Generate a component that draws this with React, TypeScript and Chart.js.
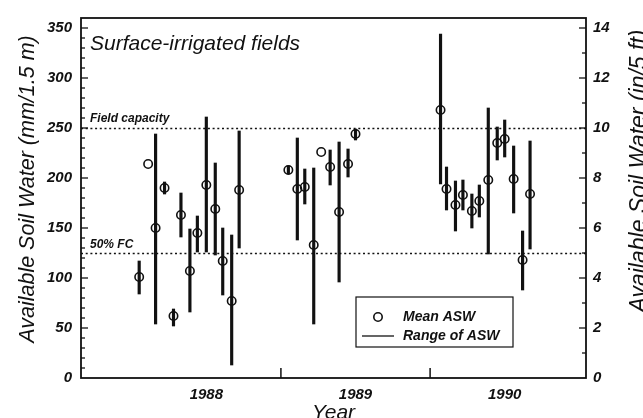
import React, { useEffect, useRef } from 'react';
import { Chart, registerables } from 'chart.js';

Chart.register(...registerables);

// Sampling dates (decimal years)
const sampleYears = [
  1988.05, 1988.11, 1988.16, 1988.22, 1988.28, 1988.33, 1988.39, 1988.44, 1988.50, 1988.56, 1988.61, 1988.67, 1988.72,
  1989.05, 1989.11, 1989.16, 1989.22, 1989.27, 1989.33, 1989.39, 1989.45, 1989.50,
  1990.07, 1990.11, 1990.17, 1990.22, 1990.28, 1990.33, 1990.39, 1990.45, 1990.50, 1990.56, 1990.62, 1990.67,
];
// Mean available soil water (mm / 1.5 m)
const meanASW = [
  101, 214, 150, 190, 62, 163, 107, 145, 193, 169, 117, 77, 188,
  208, 189, 191, 133, 226, 211, 166, 214, 244,
  268, 189, 173, 183, 167, 177, 198, 235, 239, 199, 118, 184,
];
// Range of ASW (min / max)
const rangeMin: (number | null)[] = [
  84, null, 54, 184, 52, 141, 66, 126, 126, 123, 83, 13, 130,
  204, 138, 174, 54, null, 193, 96, 201, 238,
  194, 168, 147, 168, 150, 161, 124, 218, 221, 165, 88, 129,
];
const rangeMax: (number | null)[] = [
  117, null, 244, 196, 69, 185, 149, 162, 261, 215, 150, 143, 247,
  212, 240, 209, 210, null, 228, 236, 229, 249,
  344, 211, 197, 198, 184, 193, 270, 251, 258, 232, 147, 237,
];

const yearLabelPositions = [1988.5, 1989.5, 1990.5];
const yearBoundaryTicks = [1989, 1990];
const xMin = 1987.66;
const xMax = 1991.045;
const yMaxMM = 360;
const mmPerInch = 25; // mm/1.5 m per in/5 ft
const fieldCapacity = 250;
const halfFieldCapacity = 125;

const INK = '#111';
const FAMILY = '"Liberation Sans", Arial, Helvetica, sans-serif';

export default function App() {
  const ref = useRef<HTMLCanvasElement | null>(null);

  useEffect(() => {
    const canvas = ref.current;
    if (!canvas) return;

    const rangeData = sampleYears
      .map((x, i) => (rangeMin[i] == null || rangeMax[i] == null ? null : { x, y: [rangeMin[i], rangeMax[i]] }))
      .filter((d) => d !== null);
    const meanData = sampleYears.map((x, i) => ({ x, y: meanASW[i] }));

    const decor = {
      id: 'decor',
      beforeDatasetsDraw(chart: any) {
        const { ctx, chartArea: ca, scales } = chart;
        const y = scales.y;
        ctx.save();
        ctx.strokeStyle = INK;
        ctx.lineWidth = 1.5;
        ctx.setLineDash([2, 2.7]);
        [fieldCapacity, halfFieldCapacity].forEach((v) => {
          const py = Math.round(y.getPixelForValue(v)) + 0.5;
          ctx.beginPath();
          ctx.moveTo(ca.left, py);
          ctx.lineTo(ca.right, py);
          ctx.stroke();
        });
        ctx.restore();
      },
      afterDraw(chart: any) {
        const { ctx, chartArea: ca, scales } = chart;
        const x = scales.x;
        const y = scales.y;
        const y2 = scales.y2;
        ctx.save();
        ctx.strokeStyle = INK;
        ctx.fillStyle = INK;

        // frame
        ctx.lineWidth = 1.8;
        ctx.strokeRect(ca.left, ca.top, ca.right - ca.left, ca.bottom - ca.top);

        // inward ticks
        ctx.lineWidth = 1.3;
        y.ticks.forEach((t: any) => {
          if (t.value <= 0 || t.value >= yMaxMM) return;
          const py = y.getPixelForValue(t.value);
          const len = t.value % 50 === 0 ? 7 : 4;
          ctx.beginPath();
          ctx.moveTo(ca.left, py);
          ctx.lineTo(ca.left + len, py);
          ctx.stroke();
        });
        y2.ticks.forEach((t: any) => {
          if (t.value <= 0) return;
          const py = y2.getPixelForValue(t.value);
          const len = t.value % 2 === 0 ? 7 : 4;
          ctx.beginPath();
          ctx.moveTo(ca.right, py);
          ctx.lineTo(ca.right - len, py);
          ctx.stroke();
        });
        ctx.lineWidth = 1.5;
        yearBoundaryTicks.forEach((v) => {
          const px = x.getPixelForValue(v);
          ctx.beginPath();
          ctx.moveTo(px, ca.bottom);
          ctx.lineTo(px, ca.bottom - 10);
          ctx.stroke();
        });

        // texts inside plot
        ctx.textAlign = 'left';
        ctx.textBaseline = 'alphabetic';
        ctx.font = `italic 21px ${FAMILY}`;
        ctx.fillText('Surface-irrigated fields', ca.left + 9, ca.top + 32);
        ctx.font = `italic bold 12px ${FAMILY}`;
        ctx.fillText('Field capacity', ca.left + 9, y.getPixelForValue(fieldCapacity) - 6);
        ctx.fillText('50% FC', ca.left + 9, y.getPixelForValue(halfFieldCapacity) - 5);

        // axis titles
        ctx.textAlign = 'center';
        ctx.font = `italic 21.5px ${FAMILY}`;
        ctx.save();
        ctx.translate(34, 189);
        ctx.rotate(-Math.PI / 2);
        ctx.fillText('Available Soil Water (mm/1.5 m)', 0, 0);
        ctx.restore();
        ctx.font = `italic 23px ${FAMILY}`;
        ctx.save();
        ctx.translate(646, 171);
        ctx.rotate(-Math.PI / 2);
        ctx.fillText('Available Soil Water (in/5 ft)', 0, 0);
        ctx.restore();
        ctx.font = `italic 21px ${FAMILY}`;
        ctx.fillText('Year', (ca.left + ca.right) / 2, 419);

        // legend
        const lx = 356, ly = 297, lw = 157, lh = 50;
        ctx.lineWidth = 1.2;
        ctx.strokeRect(lx, ly, lw, lh);
        ctx.lineWidth = 1.6;
        ctx.beginPath();
        ctx.arc(lx + 22, ly + 20, 4.2, 0, Math.PI * 2);
        ctx.stroke();
        ctx.lineWidth = 1.3;
        ctx.beginPath();
        ctx.moveTo(lx + 6, ly + 39);
        ctx.lineTo(lx + 38, ly + 39);
        ctx.stroke();
        ctx.font = `italic bold 14px ${FAMILY}`;
        ctx.textAlign = 'left';
        ctx.textBaseline = 'middle';
        ctx.fillText('Mean ASW', lx + 47, ly + 20);
        ctx.fillText('Range of ASW', lx + 47, ly + 39);
        ctx.restore();
      },
    };

    const tickFont = { family: FAMILY, size: 15, style: 'italic' as const, weight: 'bold' as const };

    const chart = new Chart(canvas, {
      type: 'bar',
      data: {
        datasets: [
          {
            type: 'scatter',
            label: 'Mean ASW',
            data: meanData,
            pointStyle: 'circle',
            pointRadius: 4.2,
            pointHoverRadius: 4.2,
            pointBorderWidth: 1.6,
            borderColor: INK,
            backgroundColor: 'rgba(0,0,0,0)',
            showLine: false,
            order: 0,
          } as any,
          {
            type: 'bar',
            label: 'Range of ASW',
            data: rangeData as any,
            backgroundColor: INK,
            borderWidth: 0,
            barThickness: 2.5,
            grouped: false,
            order: 1,
          } as any,
        ],
      },
      options: {
        animation: false,
        responsive: false,
        maintainAspectRatio: false,
        layout: { padding: { top: 10, left: 0, right: 0, bottom: 0 } },
        plugins: { legend: { display: false }, tooltip: { enabled: false }, title: { display: false } },
        scales: {
          x: {
            type: 'linear',
            min: xMin,
            max: xMax,
            offset: false,
            grid: { display: false, drawTicks: false },
            border: { display: false },
            afterBuildTicks: (s: any) => {
              s.ticks = yearLabelPositions.map((v) => ({ value: v }));
            },
            afterFit: (s: any) => {
              s.height = 40;
            },
            ticks: {
              autoSkip: false,
              maxRotation: 0,
              padding: 8,
              color: INK,
              font: tickFont,
              callback: (v: any) => String(Math.floor(Number(v))),
            },
          },
          y: {
            type: 'linear',
            position: 'left',
            min: 0,
            max: yMaxMM,
            grid: { display: false, drawTicks: false },
            border: { display: false },
            afterFit: (s: any) => {
              s.width = 81;
            },
            ticks: {
              stepSize: 10,
              autoSkip: false,
              padding: 9,
              color: INK,
              font: tickFont,
              callback: (v: any) => (Number(v) % 50 === 0 && Number(v) <= 350 ? String(v) : ''),
            },
          },
          y2: {
            type: 'linear',
            position: 'right',
            min: 0,
            max: yMaxMM / mmPerInch,
            grid: { display: false, drawTicks: false },
            border: { display: false },
            afterFit: (s: any) => {
              s.width = 57;
            },
            ticks: {
              stepSize: 1,
              includeBounds: false,
              autoSkip: false,
              padding: 7,
              color: INK,
              font: tickFont,
              callback: (v: any) => (Number(v) % 2 === 0 ? String(v) : ''),
            },
          },
        },
      },
      plugins: [decor],
    });

    return () => chart.destroy();
  }, []);

  return (
    <div style={{ position: 'fixed', left: 0, top: 0, width: 643, height: 418, background: '#fff' }}>
      <canvas ref={ref} width={643} height={418} style={{ display: 'block', width: 643, height: 418 }} />
    </div>
  );
}
